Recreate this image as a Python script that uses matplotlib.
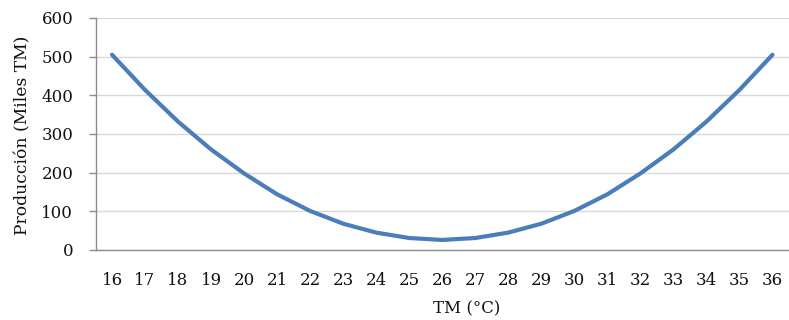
import matplotlib.pyplot as plt

# temperatura media vs producción
temps = [16, 17, 18, 19, 20, 21, 22, 23, 24, 25, 26,
         27, 28, 29, 30, 31, 32, 33, 34, 35, 36]
produccion = [505, 414, 332, 260, 198, 144, 101, 68, 45, 31, 26,
              31, 45, 68, 101, 144, 198, 260, 332, 414, 505]
y_ticks = [0, 100, 200, 300, 400, 500, 600]

plt.rcParams['font.family'] = ['DejaVu Serif']

fig = plt.figure(figsize=(7.89, 3.2), dpi=100)
ax = fig.add_axes([95.5 / 789, 70 / 320, 1 - 95.5 / 789, 232 / 320])

pos = list(range(len(temps)))
ax.plot(pos, produccion, color='#4a7ebb', lw=3, solid_capstyle='round')

ax.set_xlim(-0.5, len(temps) - 0.5)
ax.set_ylim(0, 600)
ax.set_xticks(pos)
ax.set_xticklabels([str(t) for t in temps])
ax.set_yticks(y_ticks)

ax.grid(axis='y', color='#d9d9d9', lw=1)
ax.set_axisbelow(True)
for s in ['top', 'right']:
    ax.spines[s].set_visible(False)
for s in ['left', 'bottom']:
    ax.spines[s].set_color('#8c8c8c')
    ax.spines[s].set_linewidth(1)

ax.tick_params(axis='y', length=5, color='#8c8c8c', pad=11,
               labelsize=12, width=1)
ax.tick_params(axis='x', length=0, pad=16, labelsize=12)
for lbl in ax.get_xticklabels() + ax.get_yticklabels():
    lbl.set_color('#111111')

ax.set_ylabel('Producción (Miles TM)', fontsize=12.3, color='#111111')
ax.set_xlabel('TM (°C)', fontsize=12, color='#111111')
ax.xaxis.set_label_coords((467 - 95.5) / (789 - 95.5), -(300 - 250) / 232)
ax.yaxis.set_label_coords(-(95.5 - 31) / (789 - 95.5), (250 - 135) / 232)

fig.savefig('out.png', dpi=100)
